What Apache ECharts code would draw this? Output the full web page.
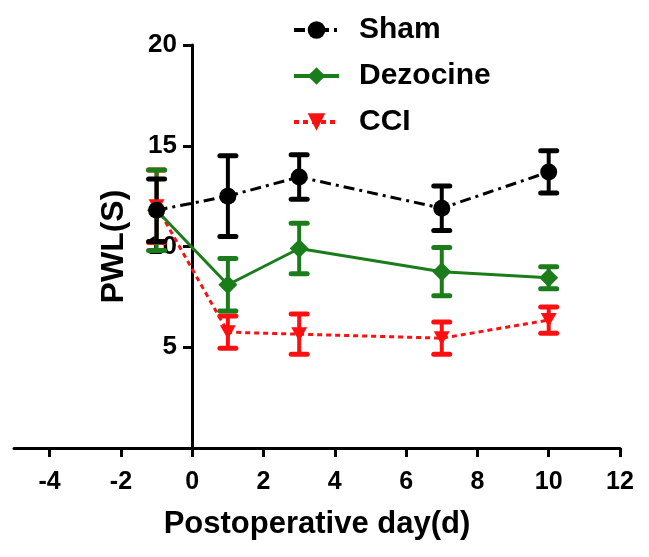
<!DOCTYPE html>
<html>
<head>
<meta charset="utf-8">
<script src="https://cdn.jsdelivr.net/npm/echarts@6/dist/echarts.min.js"></script>
<style>html,body{margin:0;padding:0;background:#fff}#c{width:649px;height:557px}</style>
</head>
<body>
<div id="c"></div>
<script>
const days = [-1, 1, 3, 7, 10];
const shamMean = [11.8, 12.5, 13.45, 11.9, 13.7];
const shamErr = [1.55, 2.0, 1.1, 1.1, 1.05];
const dezMean = [11.8, 8.1, 9.9, 8.75, 8.45];
const dezErr = [2.0, 1.3, 1.25, 1.2, 0.55];
const cciMean = [12.0, 5.75, 5.65, 5.45, 6.35];
const cciErr = [1.8, 0.8, 1.0, 0.8, 0.65];
const xTicks = [-4, -2, 0, 2, 4, 6, 8, 10, 12];
const yTicks = [5, 10, 15, 20];

const FONT = "Arial, 'Liberation Sans', sans-serif";
const BLACK = '#000000', GREEN = '#1a7d1a', RED = '#ff1010';

function pts(mean) { return days.map((d, i) => [d, mean[i]]); }
function errs(mean, err) { return days.map((d, i) => [d, mean[i] - err[i], mean[i] + err[i]]); }

function errSeries(name, mean, err, color) {
  return {
    name: name, type: 'custom', clip: false,
    data: errs(mean, err),
    renderItem: function (params, api) {
      const x = api.value(0);
      const lo = api.coord([x, api.value(1)]);
      const hi = api.coord([x, api.value(2)]);
      const hw = 8;
      const st = { stroke: color, lineWidth: 5, lineCap: 'round' };
      return {
        type: 'group', children: [
          { type: 'line', shape: { x1: lo[0], y1: lo[1], x2: hi[0], y2: hi[1] }, style: { stroke: color, lineWidth: 4 } },
          { type: 'line', shape: { x1: lo[0] - hw, y1: lo[1], x2: lo[0] + hw, y2: lo[1] }, style: st },
          { type: 'line', shape: { x1: hi[0] - hw, y1: hi[1], x2: hi[0] + hw, y2: hi[1] }, style: st }
        ]
      };
    }
  };
}

const chart = echarts.init(document.getElementById('c'), null, { renderer: 'canvas' });
chart.setOption({
  animation: false,
  backgroundColor: '#ffffff',
  textStyle: { fontFamily: FONT },
  grid: { left: 14, right: 29, top: 45, bottom: 109, containLabel: false, outerBoundsMode: 'none' },
  legend: {
    orient: 'vertical', left: 287, top: 10,
    itemWidth: 45, itemHeight: 22, itemGap: 16,
    data: ['Sham', 'Dezocine', 'CCI'],
    lineStyle: { width: 4 },
    textStyle: { fontSize: 30, fontWeight: 'bold', color: '#000', fontFamily: FONT, padding: [0, 0, 0, 15], lineHeight: 30 }
  },
  xAxis: {
    type: 'value', min: -5, max: 12,
    name: 'Postoperative day(d)', nameLocation: 'middle', nameGap: 61,
    nameTextStyle: { fontSize: 31, fontWeight: 'bold', color: '#000', fontFamily: FONT },
    axisLine: { onZero: true, lineStyle: { color: '#000', width: 3 } },
    axisTick: { show: true, inside: false, length: 9, customValues: xTicks, lineStyle: { color: '#000', width: 3 } },
    axisLabel: { customValues: xTicks, fontSize: 25, fontWeight: 'bold', color: '#000', margin: 22, fontFamily: FONT },
    splitLine: { show: false }
  },
  yAxis: {
    type: 'value', min: 0, max: 20, position: 'left', offset: -178,
    name: 'PWL(S)', nameLocation: 'middle', nameGap: 62, nameRotate: 90,
    nameTextStyle: { fontSize: 32, fontWeight: 'bold', color: '#000', fontFamily: FONT },
    axisLine: { show: true, onZero: false, lineStyle: { color: '#000', width: 3 } },
    axisTick: { show: true, inside: false, length: 9, customValues: yTicks, lineStyle: { color: '#000', width: 3 } },
    axisLabel: { customValues: yTicks, fontSize: 26, fontWeight: 'bold', color: '#000', margin: 15, fontFamily: FONT },
    splitLine: { show: false }
  },
  series: [
    errSeries('CCI err', cciMean, cciErr, RED),
    {
      name: 'CCI', type: 'line', data: pts(cciMean), clip: false,
      symbol: 'triangle', symbolRotate: 180, symbolSize: [16, 14],
      itemStyle: { color: RED },
      lineStyle: { color: RED, width: 3, type: [5, 4] }
    },
    errSeries('Dezocine err', dezMean, dezErr, GREEN),
    {
      name: 'Dezocine', type: 'line', data: pts(dezMean), clip: false,
      symbol: 'diamond', symbolSize: [19, 19],
      itemStyle: { color: GREEN },
      lineStyle: { color: GREEN, width: 3, type: 'solid' }
    },
    errSeries('Sham err', shamMean, shamErr, BLACK),
    {
      name: 'Sham', type: 'line', data: pts(shamMean), clip: false,
      symbol: 'circle', symbolSize: 17,
      itemStyle: { color: BLACK },
      lineStyle: { color: BLACK, width: 3, type: [11, 5, 3, 5] }
    }
  ]
});
</script>
</body>
</html>
